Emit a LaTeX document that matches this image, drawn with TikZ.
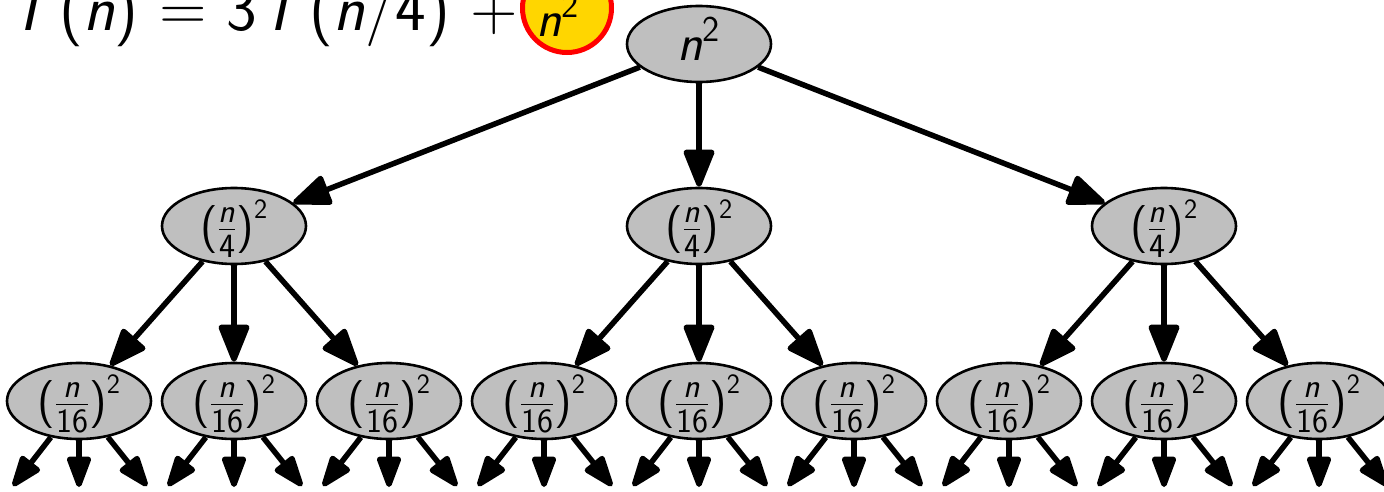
\RequirePackage{fix-cm}
\documentclass[tikz,border=0pt]{standalone}
\usepackage{amsmath}
\usetikzlibrary{arrows.meta,shapes.geometric}
\definecolor{nodegray}{RGB}{191,191,191}
\definecolor{goldfill}{RGB}{255,214,0}
\newcommand{\st}[1]{\textsf{#1}}
\newcommand{\sfn}{\textsf{\itshape n}}
\newcommand{\fr}[1]{\textsf{\fontsize{34}{36}\selectfont #1}}
\newcommand{\suptwo}{\textsf{\fontsize{28}{30}\selectfont 2}}
\newcommand{\sqfrac}[1]{$\st{(}\frac{\fr{\itshape n}}{\fr{#1}}\st{)}^{\suptwo}$}
\begin{document}
\begin{tikzpicture}[x=1pt,y=-1pt,
  tnode/.style={ellipse,draw=black,line width=2.6pt,fill=nodegray,minimum width=144pt,minimum height=76pt,inner sep=0pt,text height=40pt,text depth=10pt,font=\fontsize{48}{52}\selectfont},
  edge/.style={line width=5.5pt,-{Triangle[length=42pt,width=32pt,round]}},
  leaf/.style={line width=5.5pt,-{Triangle[length=36pt,width=25pt,round]}},
  hl/.style={circle,draw=red,line width=5pt,fill=goldfill,minimum size=89pt,inner sep=0pt}]
\useasboundingbox (0,0) rectangle (1384,491);
% equation
\node[anchor=base west,inner sep=0pt,font=\fontsize{65}{68}\selectfont\sffamily] (eq) at (7,30)
  {\itshape T\upshape\,(\itshape n\upshape) = 3\itshape T\upshape\,(\itshape n\upshape/4) +};
\node[hl] (hl) at (567,8) {};
\node[anchor=base west,inner sep=0pt,font=\fontsize{52}{55}\selectfont] (hlt) at (536,36) {$\sfn^{\st{2}}$};
% root
\node[tnode,font=\fontsize{52}{55}\selectfont,text height=42pt,text depth=10pt] (r) at (699,44) {$\sfn^{\st{2}}$};
% level 2
\foreach \j in {0,1,2} {
  \pgfmathsetmacro\mx{234+465*\j}
  \node[tnode] (m\j) at (\mx,226) {\sqfrac{4}};
  \draw[edge] (r) -- (m\j);
}
% level 3
\foreach \k in {0,...,8} {
  \pgfmathsetmacro\cx{79+155*\k}
  \pgfmathtruncatemacro\pidx{\k/3}
  \node[tnode] (l\k) at (\cx,401) {\sqfrac{16}};
  \draw[edge] (m\pidx) -- (l\k);
  \coordinate (l\k a) at (\cx-66,486);
  \coordinate (l\k b) at (\cx,487);
  \coordinate (l\k c) at (\cx+68,486);
  \draw[leaf] (l\k) -- (l\k a);
  \draw[leaf] (l\k) -- (l\k b);
  \draw[leaf] (l\k) -- (l\k c);
}
\end{tikzpicture}
\end{document}
